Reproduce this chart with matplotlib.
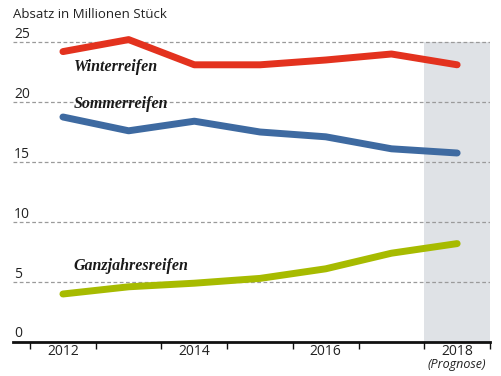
import matplotlib
matplotlib.use("Agg")
import matplotlib.pyplot as plt

years = [2012, 2013, 2014, 2015, 2016, 2017, 2018]
winter = [24.2, 25.2, 23.1, 23.1, 23.5, 24.0, 23.1]
sommer = [18.75, 17.6, 18.4, 17.5, 17.1, 16.1, 15.75]
ganz = [4.0, 4.6, 4.9, 5.3, 6.1, 7.4, 8.2]
ytick_vals = [5, 10, 15, 20, 25]
xtick_labels = [2012, 2014, 2016, 2018]

SANS = "Open Sans"
SERIF = "Liberation Serif"

fig = plt.figure(figsize=(5.01, 3.76), dpi=100)
W, H = 501, 376
x0, x1 = 13, 490
ybot = 342
ax = fig.add_axes([x0 / W, 1 - ybot / H, (x1 - x0) / W, (ybot - 30) / H])
ax.set_xlim(2011.24, 2018.5)
ax.set_ylim(0, 26)

ax.fill_between([2017.5, 2018.5], 0, 25, color="#dfe2e6", lw=0, zorder=0)
for v in ytick_vals:
    ax.axhline(v, color="#9a9a9a", lw=0.9, ls=(0, (3, 2)), zorder=1)
    ax.text(0.002, v + 0.02, str(v), transform=ax.get_yaxis_transform(),
            ha="left", va="bottom", fontsize=10, family=SANS, color="#222222")
ax.text(0.002, 0.05, "0", transform=ax.get_yaxis_transform(),
        ha="left", va="bottom", fontsize=10, family=SANS, color="#222222")

kw = dict(lw=5, solid_capstyle="round", solid_joinstyle="round", zorder=3)
ax.plot(years, winter, color="#e3321e", **kw)
ax.plot(years, sommer, color="#3e6aa1", **kw)
ax.plot(years, ganz, color="#a7bb00", **kw)

lab = dict(fontsize=11.5, family=SERIF, style="italic", weight="bold",
           color="#1a1a1a", ha="left", va="center", zorder=4)
ax.text(2012.16, 22.95, "Winterreifen", **lab)
ax.text(2012.16, 19.8, "Sommerreifen", **lab)
ax.text(2012.16, 6.3, "Ganzjahresreifen", **lab)

for s in ["left", "right", "top"]:
    ax.spines[s].set_visible(False)
ax.spines["bottom"].set_linewidth(2)
ax.spines["bottom"].set_color("#111111")
ax.set_yticks([])
ax.set_xticks([y + 0.5 for y in range(2011, 2019)])
ax.set_xticklabels([])
ax.tick_params(axis="x", direction="out", length=5, width=1, color="#111111")
for y in xtick_labels:
    ax.text(y, -0.2, str(y), ha="center", va="top", fontsize=10,
            family=SANS, color="#222222")
ax.text(2018, -1.35, "(Prognose)", ha="center", va="top", fontsize=9,
        family=SANS, style="italic", color="#222222")

fig.text(13 / W, 1 - 14 / H, "Absatz in Millionen Stück", ha="left",
         va="center", fontsize=9.5, family=SANS, color="#222222")

fig.savefig("out.png", dpi=100)
